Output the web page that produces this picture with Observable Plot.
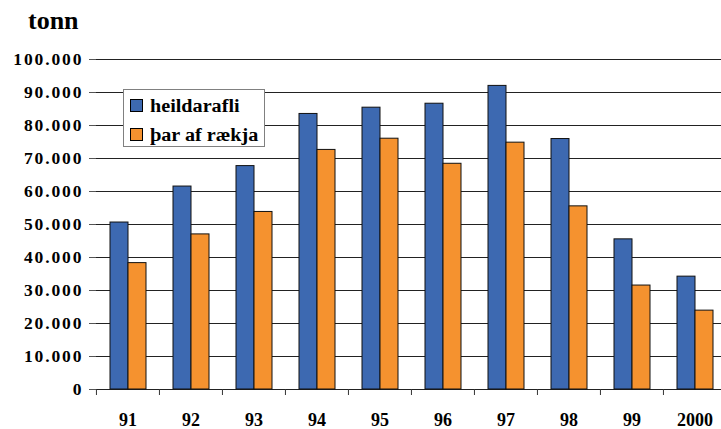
<!DOCTYPE html>
<html>
<head>
<meta charset="utf-8">
<script src="https://cdn.jsdelivr.net/npm/d3@7"></script>
<script src="https://cdn.jsdelivr.net/npm/@observablehq/plot@0.6"></script>
</head>
<body style="margin:0;padding:0;background:#fff;overflow:hidden">
<div id="wrap" style="position:relative;width:721px;height:429px;font-family:'Liberation Serif',serif;font-weight:bold">
  <div id="chart"></div>
  <div id="title" style="position:absolute;left:28px;top:8px;font-size:26px;line-height:1;color:#000;font-family:'Liberation Serif',serif">tonn</div>
  <div id="legend" style="position:absolute;left:123px;top:89px;width:142px;height:58px;background:#fff;border:1px solid #808080;box-sizing:border-box"></div>
</div>
<script>
const years = ["91", "92", "93", "94", "95", "96", "97", "98", "99", "2000"];
const seriesNames = ["heildarafli", "þar af rækja"];
const heildarafli = [50600, 61500, 67700, 83500, 85400, 86600, 92000, 75900, 45500, 34200];
const rakja = [38300, 47000, 53800, 72600, 76000, 68400, 74800, 55500, 31500, 23900];
const colors = ["#3D69B1", "#F5922F"];
const yTicks = [0, 10000, 20000, 30000, 40000, 50000, 60000, 70000, 80000, 90000, 100000];

const FONT = "'Liberation Serif', serif";

const data = [];
years.forEach((yr, i) => {
  data.push({year: yr, series: seriesNames[0], value: heildarafli[i]});
  data.push({year: yr, series: seriesNames[1], value: rakja[i]});
});

const fmt = d3.formatLocale({thousands: ".", decimal: ",", grouping: [3], currency: ["", ""]}).format(",");

const chart = Plot.plot({
  width: 721,
  height: 429,
  marginTop: 59,
  marginBottom: 40,
  marginLeft: 95,
  marginRight: 0,
  style: {fontFamily: FONT, fontWeight: "bold", background: "transparent", overflow: "visible"},
  fx: {domain: years, range: [95, 726], paddingInner: 0, paddingOuter: 0},
  x: {domain: seriesNames, paddingInner: 0, paddingOuter: 0.75, axis: null},
  y: {domain: [0, 100000], ticks: yTicks},
  color: {domain: seriesNames, range: colors},
  marks: [
    Plot.gridY(yTicks, {stroke: "#222", strokeOpacity: 1, strokeWidth: 1}),
    Plot.barY(data, {fx: "year", x: "series", y: "value", fill: "series", stroke: "#111", strokeWidth: 1, inset: 0}),
    Plot.axisY(yTicks, {tickSize: 7, tickPadding: 8, tickFormat: fmt, fontSize: 17.5, fontWeight: "bold", label: null, stroke: "#555", line: true}),
    Plot.axisFx({anchor: "bottom", tickSize: 0, tickPadding: 24, fontSize: 18, fontWeight: "bold", label: null}),
    Plot.axisFx({anchor: "bottom", tickSize: 6, tickFormat: () => "", stroke: "#333", dx: -31.55, label: null})
  ]
});
chart.style.fontFamily = FONT;
d3.select(chart).selectAll("text").style("font-family", FONT).style("font-weight", "bold");
document.getElementById("chart").appendChild(chart);
// widen the y tick labels a little (reference uses spaced digits)
d3.select(chart).selectAll("g[aria-label='y-axis tick label'] text").each(function() {
  const n = this.textContent.length;
  const len = this.getComputedTextLength();
  if (n > 1) {
    this.setAttribute("textLength", len + (n - 1) * 1.9);
    this.setAttribute("lengthAdjust", "spacing");
  }
});

const legend = document.getElementById("legend");
seriesNames.forEach((name, i) => {
  const item = document.createElement("div");
  item.style.cssText = "position:absolute;left:6px;height:14px;font-size:18px;line-height:1;white-space:nowrap";
  item.style.fontFamily = FONT;
  item.style.top = (9 + i * 29) + "px";
  const sw = document.createElement("div");
  sw.style.cssText = "position:absolute;left:0;top:0;width:13px;height:13px;border:1px solid #000;box-sizing:border-box";
  sw.style.background = colors[i];
  const lab = document.createElement("div");
  lab.style.cssText = "position:absolute;left:20px;top:-2px;transform:scaleX(1.12);transform-origin:0 0";
  lab.textContent = name;
  item.appendChild(sw);
  item.appendChild(lab);
  legend.appendChild(item);
});
</script>
</body>
</html>
